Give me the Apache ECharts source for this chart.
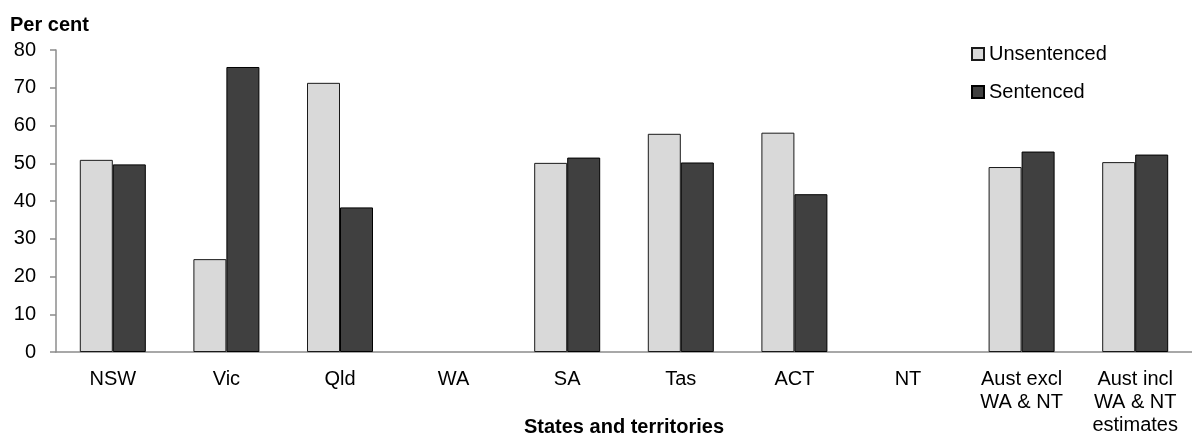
<!DOCTYPE html>
<html>
<head>
<meta charset="utf-8">
<script src="https://cdn.jsdelivr.net/npm/echarts@6/dist/echarts.min.js"></script>
<style>
html,body{margin:0;padding:0;background:#fff;}
#chart{width:1192px;height:436px;}
</style>
</head>
<body>
<div id="chart"></div>
<script>
const categories = ['NSW', 'Vic', 'Qld', 'WA', 'SA', 'Tas', 'ACT', 'NT', 'Aust excl\nWA & NT', 'Aust incl\nWA & NT\nestimates'];
const unsentenced = [50.9, 24.6, 71.3, null, 50.1, 57.8, 58.1, null, 49.0, 50.3];
const sentenced = [49.7, 75.5, 38.3, null, 51.5, 50.2, 41.8, null, 53.1, 52.3];
const yTicks = { min: 0, max: 80, interval: 10 };

const FONT = '"Liberation Sans", Arial, sans-serif';
const chart = echarts.init(document.getElementById('chart'), null, { renderer: 'canvas' });
chart.setOption({
  animation: false,
  backgroundColor: '#ffffff',
  textStyle: { fontFamily: FONT, color: '#000' },
  title: {
    text: 'Per cent',
    left: 10, top: 15, padding: 0,
    textStyle: { fontFamily: FONT, fontSize: 20, fontWeight: 'bold', color: '#000' }
  },
  legend: {
    orient: 'vertical',
    left: 966, top: 39,
    itemWidth: 12, itemHeight: 12,
    itemGap: 18,
    icon: 'rect',
    textStyle: { fontFamily: FONT, fontSize: 20, color: '#000' },
    data: ['Unsentenced', 'Sentenced']
  },
  grid: { left: 56, right: 0, top: 50, bottom: 84, containLabel: false, outerBoundsMode: 'none' },
  xAxis: {
    type: 'category',
    data: categories,
    name: 'States and territories',
    nameLocation: 'middle',
    nameGap: 65,
    nameMoveOverlap: false,
    nameTextStyle: { fontFamily: FONT, fontSize: 20, fontWeight: 'bold', color: '#000' },
    axisLine: { lineStyle: { color: '#8c8c8c', width: 1.5 } },
    axisTick: { alignWithLabel: true, length: 5, lineStyle: { color: '#8c8c8c', width: 1.5 } },
    axisLabel: { fontFamily: FONT, fontSize: 20, color: '#000', margin: 16, lineHeight: 23, interval: 0 },
    splitLine: { show: false }
  },
  yAxis: {
    type: 'value',
    min: yTicks.min, max: yTicks.max, interval: yTicks.interval,
    axisLine: { show: true, lineStyle: { color: '#8c8c8c', width: 1.5 } },
    axisTick: { show: true, length: 6, lineStyle: { color: '#8c8c8c', width: 1.5 } },
    axisLabel: { fontFamily: FONT, fontSize: 20, color: '#000', margin: 20 },
    splitLine: { show: false }
  },
  series: [
    {
      name: 'Unsentenced', type: 'bar', data: unsentenced,
      barWidth: 33, barGap: '0%',
      itemStyle: { color: '#d9d9d9', borderColor: '#1a1a1a', borderWidth: 1 }
    },
    {
      name: 'Sentenced', type: 'bar', data: sentenced,
      barWidth: 33, barGap: '0%',
      itemStyle: { color: '#404040', borderColor: '#000', borderWidth: 1 }
    }
  ]
});
</script>
</body>
</html>
